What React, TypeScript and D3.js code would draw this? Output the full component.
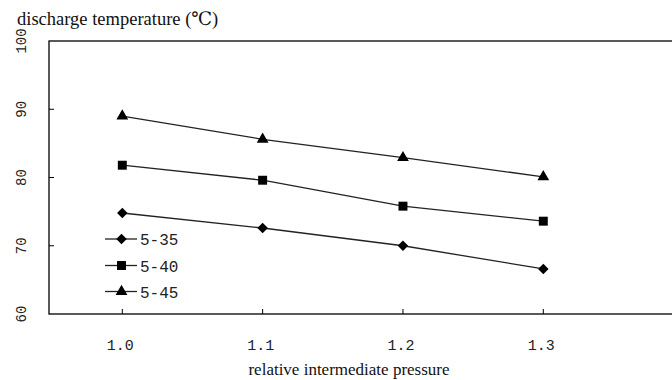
import React, { useEffect, useRef } from 'react';
import * as d3 from 'd3';

const pressures = [1.0, 1.1, 1.2, 1.3];
const yTicks = [60, 70, 80, 90, 100];
const series35 = [74.8, 72.6, 70.0, 66.6];
const series40 = [81.8, 79.6, 75.8, 73.6];
const series45 = [89.0, 85.6, 82.9, 80.1];
const seriesNames = ['5-35', '5-40', '5-45'];

export default function App() {
  const ref = useRef<SVGSVGElement>(null);

  useEffect(() => {
    const svg = d3.select(ref.current);
    svg.selectAll('*').remove();

    const left = 49, top = 41, bottom = 314;
    // axis runs past the right edge of the picture
    const x = d3.scaleLinear().domain([1.0, 1.3]).range([122.3, 543.3]);
    const y = d3.scaleLinear().domain([60, 100]).range([bottom, top]);

    const monoFont = '"Liberation Mono", monospace';
    const serifFont = '"Liberation Serif", "DejaVu Serif", serif';

    // frame
    svg.append('rect')
      .attr('x', left).attr('y', top)
      .attr('width', 700 - left).attr('height', bottom - top)
      .attr('fill', 'none').attr('stroke', '#000').attr('stroke-width', 1.3);

    // y ticks (inside) and rotated labels
    yTicks.forEach(t => {
      if (t > 60 && t < 100) {
        svg.append('line')
          .attr('x1', left).attr('x2', left + 5)
          .attr('y1', y(t)).attr('y2', y(t))
          .attr('stroke', '#000').attr('stroke-width', 1);
      }
      svg.append('text')
        .attr('transform', `translate(26, ${y(t)}) rotate(-90)`)
        .attr('text-anchor', 'middle')
        .attr('font-family', monoFont).attr('font-size', 14)
        .attr('fill', '#222')
        .text(t);
    });

    // x ticks (inside) and labels
    pressures.forEach(p => {
      svg.append('line')
        .attr('x1', x(p)).attr('x2', x(p))
        .attr('y1', bottom).attr('y2', bottom - 5)
        .attr('stroke', '#000').attr('stroke-width', 1);
      svg.append('text')
        .attr('x', x(p) - 2).attr('y', 350)
        .attr('text-anchor', 'middle')
        .attr('font-family', monoFont).attr('font-size', 15)
        .attr('fill', '#222')
        .text(p.toFixed(1));
    });

    // titles
    svg.append('text')
      .attr('x', 17).attr('y', 25)
      .attr('font-family', serifFont).attr('font-size', 18.5)
      .attr('fill', '#111')
      .text('discharge temperature (℃)');
    svg.append('text')
      .attr('x', 349).attr('y', 375)
      .attr('text-anchor', 'middle')
      .attr('font-family', serifFont).attr('font-size', 17)
      .attr('fill', '#111')
      .text('relative intermediate pressure');

    const symbols = [d3.symbolDiamond2, d3.symbolSquare, d3.symbolTriangle];
    const sizes = [70, 80, 60];
    const allSeries = [series35, series40, series45];

    const line = d3.line<number>()
      .x((d, i) => x(pressures[i]))
      .y(d => y(d));

    allSeries.forEach((s, k) => {
      svg.append('path')
        .attr('d', line(s))
        .attr('fill', 'none')
        .attr('stroke', '#222')
        .attr('stroke-width', 1.3);
      const sym = d3.symbol().type(symbols[k]).size(sizes[k]);
      s.forEach((v, i) => {
        svg.append('path')
          .attr('d', sym())
          .attr('transform', `translate(${x(pressures[i])}, ${y(v)})`)
          .attr('fill', '#000');
      });
    });

    // legend
    const legendY = [239, 265.5, 291.5];
    seriesNames.forEach((name, k) => {
      svg.append('line')
        .attr('x1', 105).attr('x2', 137)
        .attr('y1', legendY[k]).attr('y2', legendY[k])
        .attr('stroke', '#222').attr('stroke-width', 1.3);
      svg.append('path')
        .attr('d', d3.symbol().type(symbols[k]).size(sizes[k])())
        .attr('transform', `translate(121.5, ${legendY[k]})`)
        .attr('fill', '#000');
      svg.append('text')
        .attr('x', 140).attr('y', legendY[k] + 6)
        .attr('font-family', monoFont).attr('font-size', 16)
        .attr('fill', '#222')
        .text(name);
    });
  }, []);

  return (
    <svg ref={ref} width={672} height={380}
      style={{ position: 'absolute', left: 0, top: 0, background: '#fff' }} />
  );
}
